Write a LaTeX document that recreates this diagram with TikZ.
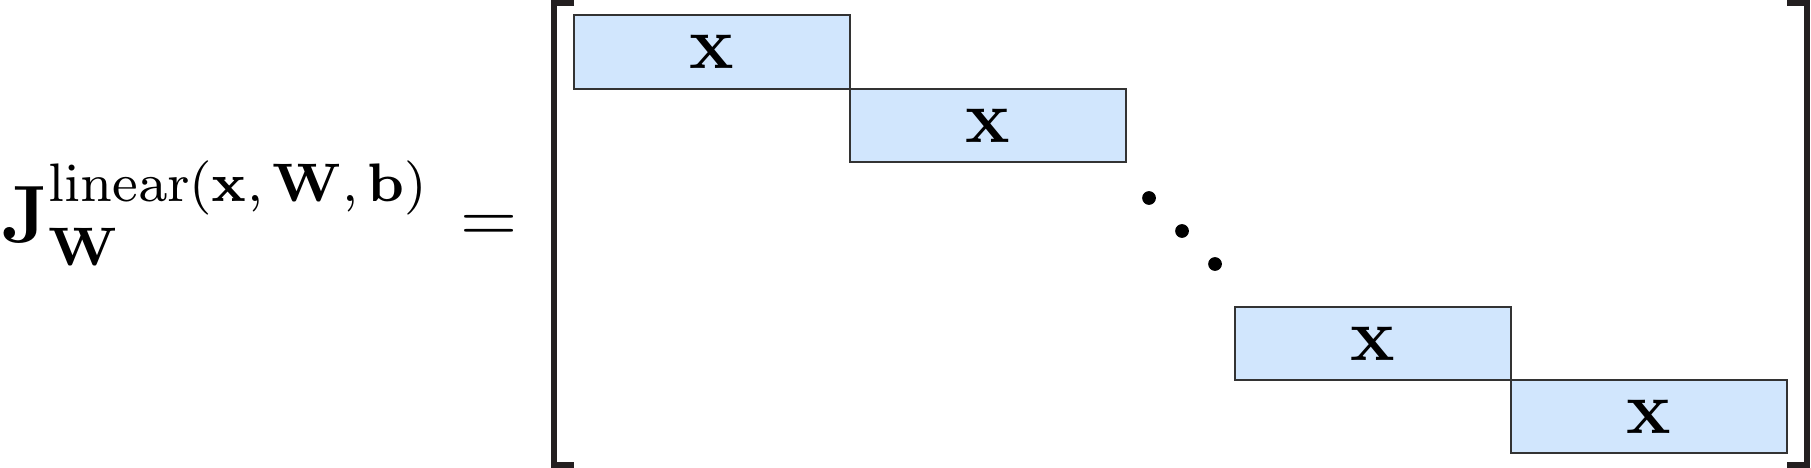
\documentclass[tikz,border=0pt,12pt]{standalone}
\usepackage{amsmath}
\definecolor{blkfill}{HTML}{D1E6FD}
\definecolor{blkline}{HTML}{333333}
\definecolor{brk}{HTML}{231F20}
\begin{document}
\begin{tikzpicture}[x=0.16pt,y=-0.16pt,
  blk/.style={draw=blkline,fill=blkfill,line width=0.32pt,minimum width=44.16pt,minimum height=11.76pt,inner sep=0pt,font=\boldmath},
  brack/.style={draw=brk,line width=0.96pt,line cap=butt,line join=miter},
  dotm/.style={circle,fill=black,inner sep=0pt,minimum size=2.2pt}]
\useasboundingbox (0,0) rectangle (1811,468);
\node[inner sep=0pt,anchor=base west,scale=1.085] (lhs) at (0,243) {$\mathbf{J}_{\mathbf{W}}^{\mathrm{linear}(\mathbf{x},\,\mathbf{W},\,\mathbf{b})}$};
\node[inner sep=0pt,anchor=base] (eq) at (489,243) {$=$};
\coordinate (lt) at (574,3);
\coordinate (lb) at (574,465);
\coordinate (rt) at (1787,3);
\coordinate (rb) at (1787,465);
\draw[brack] (lt) -- (554,3) -- (554,465) -- (lb);
\draw[brack] (rt) -- (1807,3) -- (1807,465) -- (rb);
\node[blk] (b1) at (712,52) {$\mathbf{x}$};
\node[blk] (b2) at (988,125.5) {$\mathbf{x}$};
\node[blk] (b3) at (1373,343.5) {$\mathbf{x}$};
\node[blk] (b4) at (1649,416.5) {$\mathbf{x}$};
\node[dotm] (d1) at (1149,198) {};
\node[dotm] (d2) at (1182,231) {};
\node[dotm] (d3) at (1215,264) {};
\end{tikzpicture}
\end{document}
